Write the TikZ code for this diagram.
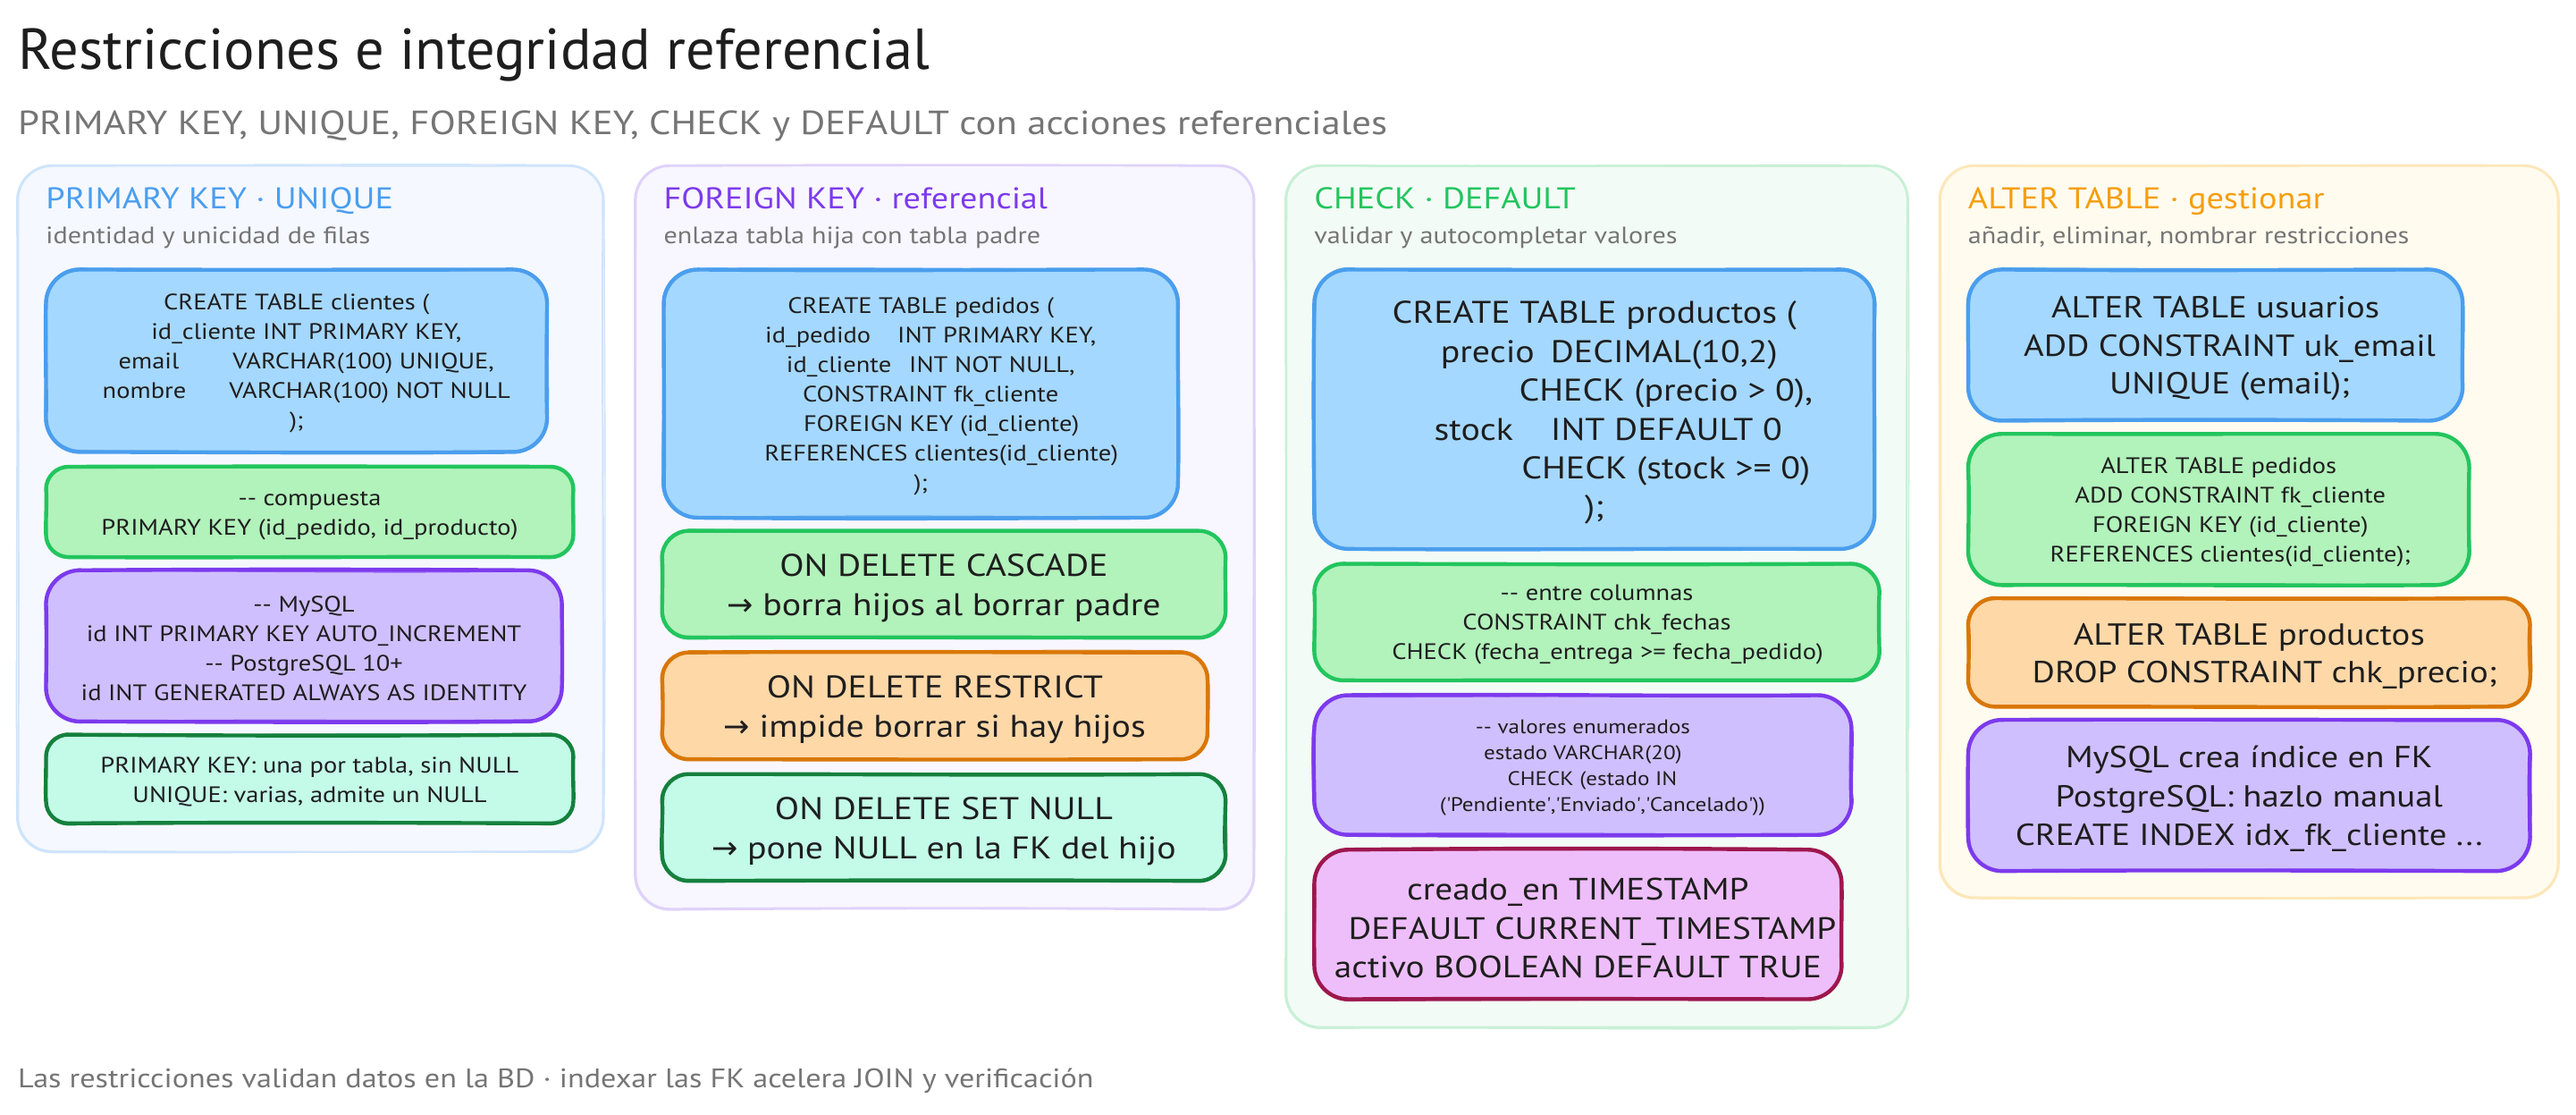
\documentclass[tikz,border=0pt]{standalone}
\usepackage{fontspec}
\setmainfont[FakeStretch=1.14]{PT Sans}
\newfontfamily\plainfont{PT Sans}
\newfontfamily\arrowfont{DejaVu Sans}
\definecolor{ink}{HTML}{1E1E1E}
\definecolor{muted}{HTML}{757575}
\definecolor{cblue}{HTML}{4A9EED}\definecolor{fblue}{HTML}{A5D8FF}
\definecolor{cgreen}{HTML}{22C55E}\definecolor{fgreen}{HTML}{B2F2BB}
\definecolor{cpurple}{HTML}{7C3AED}\definecolor{fpurple}{HTML}{D0BFFF}
\definecolor{cteal}{HTML}{15803D}\definecolor{fteal}{HTML}{C3FAE8}
\definecolor{corange}{HTML}{D97706}\definecolor{forange}{HTML}{FFD8A8}
\definecolor{cpink}{HTML}{9D174D}\definecolor{fpink}{HTML}{EEBEFA}
\definecolor{amber}{HTML}{F59E0B}
\definecolor{pa}{HTML}{F5F8FF}\definecolor{pas}{HTML}{CFE4FB}
\definecolor{pb}{HTML}{F8F6FF}\definecolor{pbs}{HTML}{DFD2F9}
\definecolor{pc}{HTML}{F3FBF6}\definecolor{pcs}{HTML}{C8F0D6}
\definecolor{pd}{HTML}{FFFBEF}\definecolor{pds}{HTML}{FDE7B8}
\tikzset{
  x=1.838pt,y=-1.838pt,
  bluecard/.style={draw=cblue,fill=fblue},
  greencard/.style={draw=cgreen,fill=fgreen},
  purplecard/.style={draw=cpurple,fill=fpurple},
  tealcard/.style={draw=cteal,fill=fteal},
  orangecard/.style={draw=corange,fill=forange},
  pinkcard/.style={draw=cpink,fill=fpink},
  panela/.style={draw=pas,fill=pa},
  panelb/.style={draw=pbs,fill=pb},
  panelc/.style={draw=pcs,fill=pc},
  paneld/.style={draw=pds,fill=pd},
  boxbase/.style={rectangle,inner sep=0pt,outer sep=0pt,align=center,text=ink},
  headtext/.style={anchor=base west,inner sep=0pt,outer sep=0pt},
  subtext/.style={anchor=base west,inner sep=0pt,outer sep=0pt,text=muted,font=\fontsize{26.5}{30}\selectfont},
  sketchline/.style={fill=none,line join=round,line cap=round},
}
\newcommand\gap[1]{\hspace*{#1pt}}
\newcommand\arr{{\arrowfont →}}
\newcommand\us{\_}
% hand-drawn outline: x0 y0 x1 y1 radius jitter (display units)
\newcommand\sketchpath[6]{%
  ({#1+#5},{#2}) .. controls ({#1+.35*(#3-#1)},{#2+rand*#6}) and ({#1+.65*(#3-#1)},{#2+rand*#6}) .. ({#3-#5},{#2})
  .. controls ({#3-.45*#5},{#2}) and ({#3},{#2+.45*#5}) .. ({#3},{#2+#5})
  .. controls ({#3+rand*#6},{#2+.35*(#4-#2)}) and ({#3+rand*#6},{#2+.65*(#4-#2)}) .. ({#3},{#4-#5})
  .. controls ({#3},{#4-.45*#5}) and ({#3-.45*#5},{#4}) .. ({#3-#5},{#4})
  .. controls ({#1+.65*(#3-#1)},{#4+rand*#6}) and ({#1+.35*(#3-#1)},{#4+rand*#6}) .. ({#1+#5},{#4})
  .. controls ({#1+.45*#5},{#4}) and ({#1},{#4-.45*#5}) .. ({#1},{#4-#5})
  .. controls ({#1+rand*#6},{#2+.65*(#4-#2)}) and ({#1+rand*#6},{#2+.35*(#4-#2)}) .. ({#1},{#2+#5})
  .. controls ({#1},{#2+.45*#5}) and ({#1+.45*#5},{#2}) .. ({#1+#5},{#2}) -- cycle
}
% name x0 y0 x1 y1 style size pitch text
\newcommand\card[9]{%
  \pgfmathsetmacro\cardw{(#4-#2)*1.838}%
  \pgfmathsetmacro\cardh{(#5-#3)*1.838}%
  \pgfmathsetmacro\cardr{min(0.25*\cardh,38)}%
  \pgfmathsetmacro\cardu{\cardr/1.838}%
  \node[boxbase,#6,draw=none,rounded corners=\cardr pt,minimum width=\cardw pt,minimum height=\cardh pt,
    font=\fontsize{#7}{#8}\selectfont] (#1) at ({(#2+#4)/2},{(#3+#5)/2}) {\rule{0pt}{0.95em}#9};
  \draw[#6,sketchline,line width=4.4pt] \sketchpath{#2}{#3}{#4}{#5}{\cardu}{0.9};
  \draw[#6,sketchline,line width=2.4pt,opacity=.7] \sketchpath{#2+rand*.8}{#3+rand*.8}{#4+rand*.8}{#5+rand*.8}{\cardu}{1.1};
}
\newcommand\panel[6]{%
  \pgfmathsetmacro\cardw{(#4-#2)*1.838}%
  \pgfmathsetmacro\cardh{(#5-#3)*1.838}%
  \node[boxbase,#6,draw=none,rounded corners=38pt,minimum width=\cardw pt,minimum height=\cardh pt] (#1) at ({(#2+#4)/2},{(#3+#5)/2}) {};
  \draw[#6,sketchline,line width=2.2pt] \sketchpath{#2}{#3}{#4}{#5}{20.7}{0.8};
  \draw[#6,sketchline,line width=1.4pt] \sketchpath{#2-.8}{#3-.6}{#4+.7}{#5+.8}{21.5}{1.1};
}
\pgfmathsetseed{42}
\begin{document}
\begin{tikzpicture}
\useasboundingbox (0,0) rectangle (1568,678.45);
\fill[white] (0,0) rectangle (1568,678.45);

\node[headtext,text=ink,font=\plainfont\fontsize{64.5}{70}\selectfont] (title) at (11,42) {Restricciones e integridad referencial};
\node[headtext,text=muted,font=\fontsize{37.5}{42}\selectfont] (subtitle) at (11,82) {PRIMARY KEY, UNIQUE, FOREIGN KEY, CHECK y DEFAULT con acciones referenciales};

% panel 1
\panel{pone}{11}{101}{367}{518}{panela}
\node[headtext,text=cblue,font=\fontsize{33.5}{38}\selectfont] (ha) at (28,127) {PRIMARY KEY · UNIQUE};
\node[subtext] (sa) at (28,148) {identidad y unicidad de filas};
\card{a1}{28}{164}{333}{275}{bluecard}{25}{33}{CREATE TABLE clientes (\\\gap{22}id\us cliente INT PRIMARY KEY,\\\gap{22}email\gap{60}VARCHAR(100) UNIQUE,\\\gap{22}nombre\gap{48}VARCHAR(100) NOT NULL\\);}
\card{a2}{28}{284}{349}{339}{greencard}{25}{33}{-{}- compuesta\\PRIMARY KEY (id\us pedido, id\us producto)}
\card{a3}{28}{347}{342}{439}{purplecard}{25}{33}{-{}- MySQL\\id INT PRIMARY KEY AUTO\us INCREMENT\\-{}- PostgreSQL 10+\\id INT GENERATED ALWAYS AS IDENTITY}
\card{a4}{28}{447}{349}{501}{tealcard}{25}{33}{PRIMARY KEY: una por tabla, sin NULL\\UNIQUE: varias, admite un NULL}

% panel 2
\panel{ptwo}{387}{101}{763}{553}{panelb}
\node[headtext,text=cpurple,font=\fontsize{33.5}{38}\selectfont] (hb) at (404,127) {FOREIGN KEY · referencial};
\node[subtext] (sb) at (404,148) {enlaza tabla hija con tabla padre};
\card{b1}{404}{164}{717}{315}{bluecard}{25}{33}{CREATE TABLE pedidos (\\\gap{22}id\us pedido\gap{30}INT PRIMARY KEY,\\\gap{22}id\us cliente\gap{20}INT NOT NULL,\\\gap{22}CONSTRAINT fk\us cliente\\\gap{46}FOREIGN KEY (id\us cliente)\\\gap{46}REFERENCES clientes(id\us cliente)\\);}
\card{b2}{403}{323}{746}{388}{greencard}{35}{44}{ON DELETE CASCADE\\\arr{} borra hijos al borrar padre}
\card{b3}{403}{397}{735}{462}{orangecard}{35}{44}{ON DELETE RESTRICT\\\arr{} impide borrar si hay hijos}
\card{b4}{403}{471}{746}{536}{tealcard}{35}{44}{ON DELETE SET NULL\\\arr{} pone NULL en la FK del hijo}

% panel 3
\panel{pthree}{783}{101}{1161}{625}{panelc}
\node[headtext,text=cgreen,font=\fontsize{33.5}{38}\selectfont] (hc) at (800,127) {CHECK · DEFAULT};
\node[subtext] (sc) at (800,148) {validar y autocompletar valores};
\card{c1}{800}{164}{1141}{334}{bluecard}{35}{43.4}{CREATE TABLE productos (\\\gap{33}precio\gap{18}DECIMAL(10,2)\\\gap{160}CHECK (precio > 0),\\\gap{31}stock\gap{42}INT DEFAULT 0\\\gap{160}CHECK (stock >= 0)\\);}
\card{c2}{800}{343}{1144}{414}{greencard}{25}{33}{-{}- entre columnas\\CONSTRAINT chk\us fechas\\\gap{24}CHECK (fecha\us entrega >= fecha\us pedido)}
\card{c3}{800}{423}{1127}{508}{purplecard}{22}{29}{-{}- valores enumerados\\estado VARCHAR(20)\\\gap{21}CHECK (estado IN\\\gap{44}(\textquotesingle Pendiente\textquotesingle,\textquotesingle Enviado\textquotesingle,\textquotesingle Cancelado\textquotesingle))}
\card{c4}{800}{517}{1121}{608}{pinkcard}{34.5}{43.4}{creado\us en TIMESTAMP\\\gap{32}DEFAULT CURRENT\us TIMESTAMP\\activo BOOLEAN DEFAULT TRUE}

% panel 4
\panel{pfour}{1181}{101}{1557}{546}{paneld}
\node[headtext,text=amber,font=\fontsize{33.5}{38}\selectfont] (hd) at (1198,127) {ALTER TABLE · gestionar};
\node[subtext] (sd) at (1198,148) {añadir, eliminar, nombrar restricciones};
\card{d1}{1198}{164}{1499}{256}{bluecard}{34}{42.5}{ALTER TABLE usuarios\\\gap{32}ADD CONSTRAINT uk\us email\\\gap{32}UNIQUE (email);}
\card{d2}{1198}{264}{1503}{356}{greencard}{25}{33}{ALTER TABLE pedidos\\\gap{26}ADD CONSTRAINT fk\us cliente\\\gap{26}FOREIGN KEY (id\us cliente)\\\gap{26}REFERENCES clientes(id\us cliente);}
\card{d3}{1198}{364}{1540}{430}{orangecard}{34}{42.5}{ALTER TABLE productos\\\gap{35}DROP CONSTRAINT chk\us precio;}
\card{d4}{1198}{438}{1540}{530}{purplecard}{34}{43.4}{MySQL crea índice en FK\\PostgreSQL: hazlo manual\\CREATE INDEX idx\us fk\us cliente ...}

\node[headtext,text=muted,font=\fontsize{30}{34}\selectfont] (foot) at (11,662) {Las restricciones validan datos en la BD · indexar las FK acelera JOIN y verificación};
\end{tikzpicture}
\end{document}
